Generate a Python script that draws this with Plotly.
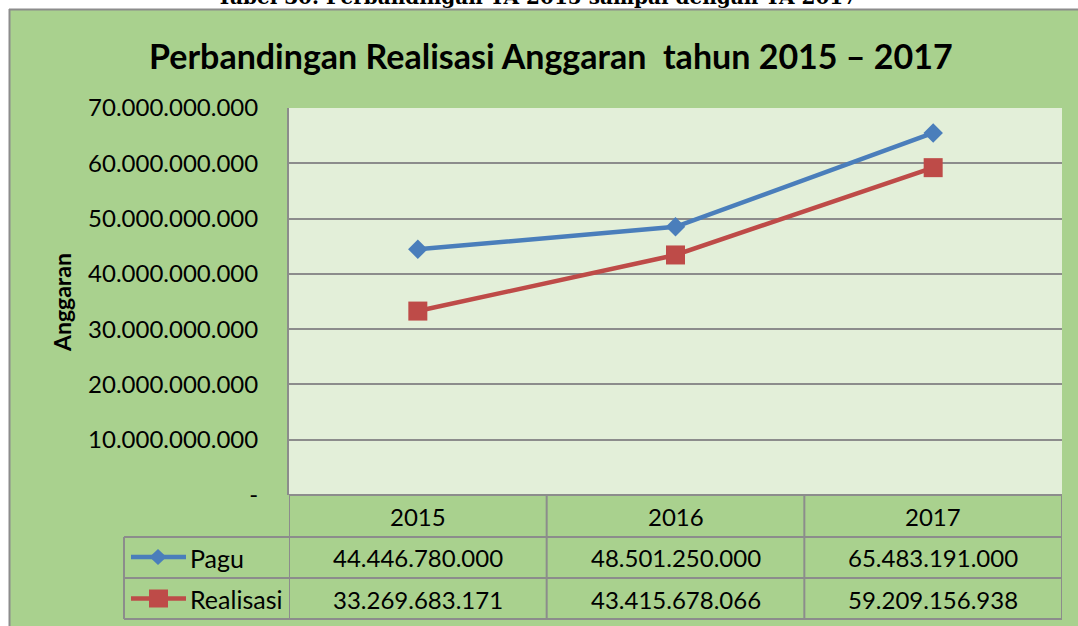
import plotly.graph_objects as go

# ---- data ----
years = ["2015", "2016", "2017"]
pagu = [44446780000, 48501250000, 65483191000]
realisasi = [33269683171, 43415678066, 59209156938]
y_tickvals = [0, 10e9, 20e9, 30e9, 40e9, 50e9, 60e9, 70e9]
y_ticktext = ["-", "10.000.000.000", "20.000.000.000", "30.000.000.000",
              "40.000.000.000", "50.000.000.000", "60.000.000.000", "70.000.000.000"]
series_names = ["Pagu", "Realisasi"]
chart_title = "Perbandingan Realisasi Anggaran  tahun 2015 \u2013 2017"
page_title = "Tabel 30. Perbandingan TA 2015 sampai dengan TA 2017"
y_title = "Anggaran"

W, H = 1078, 626
L, R, T, B = 289, 1062, 108, 495  # plot area in pixels

def px(x):
    return (x - L) / (R - L)

def py(y):
    return (B - y) / (B - T)

def fmt(v):
    return f"{v:,}".replace(",", ".")

BLUE = "#4A7EBB"
RED = "#BE4B48"
OUTER = "#A9D18E"
INNER = "#E3EFD9"
GRID = "#8C8C8C"
FONT = "Lato"

fig = go.Figure()
fig.add_trace(go.Scatter(x=years, y=pagu, mode="lines+markers", name=series_names[0],
                         line=dict(color=BLUE, width=4.5),
                         marker=dict(symbol="diamond", size=15, color=BLUE)))
fig.add_trace(go.Scatter(x=years, y=realisasi, mode="lines+markers", name=series_names[1],
                         line=dict(color=RED, width=4.5),
                         marker=dict(symbol="square", size=19, color=RED)))

shapes = []
# white page margins (top and left) and chart border
shapes.append(dict(type="rect", xref="paper", yref="paper", x0=px(-20), x1=px(1100),
                   y0=py(-20), y1=py(9), fillcolor="white", line=dict(width=0), layer="below"))
shapes.append(dict(type="rect", xref="paper", yref="paper", x0=px(-20), x1=px(9),
                   y0=py(-20), y1=py(660), fillcolor="white", line=dict(width=0), layer="below"))
shapes.append(dict(type="line", xref="paper", yref="paper", x0=px(9), x1=px(1100),
                   y0=py(9.5), y1=py(9.5), line=dict(color="#8C8C8C", width=2), layer="below"))
shapes.append(dict(type="line", xref="paper", yref="paper", x0=px(9.5), x1=px(9.5),
                   y0=py(9), y1=py(660), line=dict(color="#8C8C8C", width=2), layer="below"))

# table grid
tl = dict(color=GRID, width=2)
row_y = [495, 537, 578, 619]
shapes.append(dict(type="line", xref="paper", yref="paper", x0=px(289), x1=px(1062),
                   y0=py(495), y1=py(495), line=tl))
for yy in row_y[1:]:
    shapes.append(dict(type="line", xref="paper", yref="paper", x0=px(124), x1=px(1062),
                       y0=py(yy), y1=py(yy), line=tl))
for b in [-0.5, 0.5, 1.5, 2.5]:
    shapes.append(dict(type="line", xref="x", yref="paper", x0=b, x1=b,
                       y0=py(495), y1=py(619), line=tl))
shapes.append(dict(type="line", xref="paper", yref="paper", x0=px(124), x1=px(124),
                   y0=py(537), y1=py(619), line=tl))

# legend keys in table
leg_rows = [557, 598.5]
for cy, col in zip(leg_rows, [BLUE, RED]):
    shapes.append(dict(type="line", xref="paper", yref="paper", x0=px(131), x1=px(186),
                       y0=py(cy), y1=py(cy), line=dict(color=col, width=4.5)))
shapes.append(dict(type="path", xref="paper", yref="paper", xsizemode="pixel", ysizemode="pixel",
                   xanchor=px(158), yanchor=py(557),
                   path="M -8.5 0 L 0 8 L 8.5 0 L 0 -8 Z", fillcolor=BLUE, line=dict(width=0)))
shapes.append(dict(type="path", xref="paper", yref="paper", xsizemode="pixel", ysizemode="pixel",
                   xanchor=px(158.5), yanchor=py(598.5),
                   path="M -9.5 -9 L 9.5 -9 L 9.5 9 L -9.5 9 Z", fillcolor=RED, line=dict(width=0)))

ann = []
cell_font = dict(family=FONT, size=24, color="black")
for i, yr in enumerate(years):
    # category axis: categories are addressed by their serial index
    ann.append(dict(x=i, xref="x", y=py(516), yref="paper", text=yr, showarrow=False,
                    font=cell_font, xanchor="center", yanchor="middle"))
    ann.append(dict(x=i, xref="x", y=py(557.5), yref="paper", text=fmt(pagu[i]), showarrow=False,
                    font=cell_font, xanchor="center", yanchor="middle"))
    ann.append(dict(x=i, xref="x", y=py(599), yref="paper", text=fmt(realisasi[i]), showarrow=False,
                    font=cell_font, xanchor="center", yanchor="middle"))
for name, cy in zip(series_names, [557.5, 599]):
    ann.append(dict(x=px(188), xref="paper", y=py(cy), yref="paper", text=name, showarrow=False,
                    font=dict(family=FONT, size=25, color="black"), xanchor="left", yanchor="middle"))

# chart title
ann.append(dict(x=px(551), xref="paper", y=py(56), yref="paper", text="<b>" + chart_title + "</b>",
                showarrow=False, font=dict(family=FONT, size=34, color="black"),
                xanchor="center", yanchor="middle"))
# page caption (cut off at top)
ann.append(dict(x=px(537), xref="paper", y=py(11), yref="paper", text="<b>" + page_title + "</b>",
                showarrow=False, font=dict(family="DejaVu Serif", size=20, color="black"),
                xanchor="center", yanchor="bottom"))
# y axis title
ann.append(dict(x=px(62), xref="paper", y=py(302), yref="paper", text="<b>" + y_title + "</b>",
                showarrow=False, textangle=-90, font=dict(family=FONT, size=23, color="black"),
                xanchor="center", yanchor="middle"))

fig.update_layout(
    width=W, height=H,
    margin=dict(l=L, r=W - R, t=T, b=H - B, pad=0),
    paper_bgcolor=OUTER,
    plot_bgcolor=INNER,
    showlegend=False,
    shapes=shapes,
    annotations=ann,
    xaxis=dict(type="category", range=[-0.5, 2.5], showticklabels=False, showgrid=False,
               zeroline=False, showline=False, ticks=""),
    yaxis=dict(range=[0, 70e9], tickvals=y_tickvals, ticktext=y_ticktext,
               showgrid=True, gridcolor=GRID, gridwidth=1.5, zeroline=False,
               showline=True, linecolor=GRID, linewidth=2, ticks="",
               ticklabelstandoff=24,
               tickfont=dict(family=FONT, size=24, color="black")),
)

fig.write_html("out.html", config={"displayModeBar": False},
               post_script="document.body.style.margin='0px';")
